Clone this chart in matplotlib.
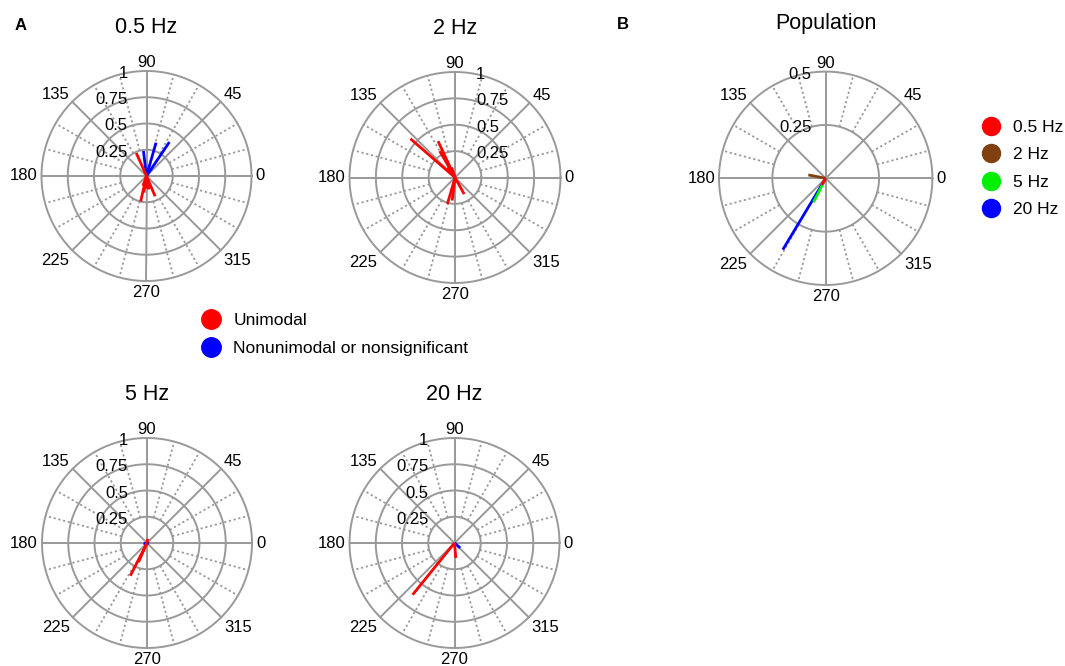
import numpy as np
import matplotlib
matplotlib.use("Agg")
import matplotlib.pyplot as plt
import matplotlib.lines as mlines

plt.rcParams["font.family"] = ["Liberation Sans", "DejaVu Sans"]

# ---------- Data (angle in degrees, vector length) ----------
freq_labels = ["0.5 Hz", "2 Hz", "5 Hz", "20 Hz"]

uni_05_ang = [114, 257, 293, 261, 273, 250, 280]
uni_05_len = [0.24, 0.25, 0.21, 0.16, 0.12, 0.10, 0.13]
non_05_ang = [56, 74, 97]
non_05_len = [0.39, 0.33, 0.24]

uni_2_ang = [139, 115, 120, 254, 299, 263, 108, 125]
uni_2_len = [0.56, 0.38, 0.29, 0.26, 0.18, 0.22, 0.10, 0.12]
non_2_ang = [300]
non_2_len = [0.012]

uni_5_ang = [243, 246, 80]
uni_5_len = [0.35, 0.20, 0.04]
non_5_ang = [180, 350]
non_5_len = [0.04, 0.02]

uni_20_ang = [231, 275]
uni_20_len = [0.634, 0.143]
non_20_ang = [319]
non_20_len = [0.072]

pop_ang = [239, 169, 243, 239]
pop_len = [0.036, 0.083, 0.126, 0.39]
pop_colors = ["#ff0000", "#804010", "#00ee00", "#0000ff"]

W, H = 1065, 666
GRID = "#999999"

fig = plt.figure(figsize=(W / 100, H / 100), dpi=100)


def add_polar(cx, cy, R):
    ax = fig.add_axes([(cx - R) / W, (H - cy - R) / H, 2 * R / W, 2 * R / H],
                      projection="polar")
    ax.set_xticks([])
    ax.set_yticks([])
    ax.grid(False)
    ax.spines["polar"].set_visible(False)
    ax.patch.set_visible(False)
    return ax


def draw_grid(ax, R, rmax, rings, lab_off):
    ax.set_ylim(0, rmax)
    th = np.linspace(0, 2 * np.pi, 721)
    for rv in rings:
        ax.plot(th, np.full_like(th, rv), color=GRID, lw=1.4, clip_on=False, zorder=1)
    for a in range(0, 360, 15):
        t = np.deg2rad(a)
        if a % 45 == 0:
            ax.plot([t, t], [0, rmax], color=GRID, lw=1.4, clip_on=False, zorder=1)
        else:
            ax.plot([t, t], [rings[0], rmax], color=GRID, lw=1.3,
                    linestyle=(0, (1.2, 1.5)), clip_on=False, zorder=1)
    # angle labels
    for a in range(0, 360, 45):
        t = np.deg2rad(a)
        c, s = np.cos(t), np.sin(t)
        ha = "left" if c > 0.01 else ("right" if c < -0.01 else "center")
        va = "baseline" if s > 0.01 else ("top" if s < -0.01 else "center")
        ax.text(t, rmax * (R + 4) / R, str(a), ha=ha, va=va, fontsize=12)
    # radial labels
    for rv in rings:
        x = lab_off / R * rmax
        y = rv - 7.0 / R * rmax
        ax.text(np.arctan2(y, x), np.hypot(x, y), "%g" % rv,
                ha="right" if lab_off < 0 else "left", va="baseline", fontsize=12)


def draw_vectors(ax, ang, lens, color):
    for a, r in zip(ang, lens):
        t = np.deg2rad(a)
        ax.plot([t, t], [0, r], color=color, lw=2.0, solid_capstyle="butt", zorder=3)


rings_a = [0.25, 0.5, 0.75, 1]
panels = [
    (146.5, 176.0, 105.0, -19, uni_05_ang, uni_05_len, non_05_ang, non_05_len, freq_labels[0]),
    (455.0, 177.5, 105.5, 21, uni_2_ang, uni_2_len, non_2_ang, non_2_len, freq_labels[1]),
    (147.0, 543.0, 105.0, -19, uni_5_ang, uni_5_len, non_5_ang, non_5_len, freq_labels[2]),
    (454.5, 543.0, 105.0, -26, uni_20_ang, uni_20_len, non_20_ang, non_20_len, freq_labels[3]),
]

for cx, cy, R, off, ua, ul, na, nl, title in panels:
    ax = add_polar(cx, cy, R)
    draw_grid(ax, R, 1.0, rings_a, off)
    draw_vectors(ax, na, nl, "#0000ff")
    draw_vectors(ax, ua, ul, "#ff0000")
    ax.set_title(title, y=0.5 + 143 / (2 * R), pad=0, fontsize=15.5)

# ---------- Population ----------
R_pop = 106.7
ax_pop = add_polar(825.7, 178.3, R_pop)
draw_grid(ax_pop, R_pop, 0.5, [0.25, 0.5], -14)
for i in [3, 2, 1, 0]:
    t = np.deg2rad(pop_ang[i])
    ax_pop.plot([t, t], [0, pop_len[i]], color=pop_colors[i], lw=2.0,
                solid_capstyle="butt", zorder=3)
ax_pop.set_title("Population", y=0.5 + 149 / (2 * R_pop), pad=0, fontsize=15.5)

# ---------- Legends ----------
fs_leg = 12.5
handles_a = [
    mlines.Line2D([], [], marker="o", linestyle="None", color="#ff0000", markersize=14, label="Unimodal"),
    mlines.Line2D([], [], marker="o", linestyle="None", color="#0000ff", markersize=14,
                  label="Nonunimodal or nonsignificant"),
]
fig.legend(handles=handles_a, loc="upper left", bbox_to_anchor=(200.3 / W, 1 - 313 / H),
           frameon=False, fontsize=fs_leg, handlelength=1.2, handletextpad=0.7,
           labelspacing=0.75, borderpad=0, borderaxespad=0)

handles_b = [mlines.Line2D([], [], marker="o", linestyle="None", color=c, markersize=13, label=l)
             for c, l in zip(pop_colors, freq_labels)]
fig.legend(handles=handles_b, loc="upper left", bbox_to_anchor=(980.3 / W, 1 - 120 / H),
           frameon=False, fontsize=fs_leg, handlelength=1.2, handletextpad=0.7,
           labelspacing=0.7, borderpad=0, borderaxespad=0)

# ---------- Panel letters ----------
fig.text(15 / W, 1 - 18 / H, "A", fontsize=12, fontweight="bold", va="top")
fig.text(617 / W, 1 - 17 / H, "B", fontsize=12, fontweight="bold", va="top")

fig.savefig("out.png", dpi=100)
